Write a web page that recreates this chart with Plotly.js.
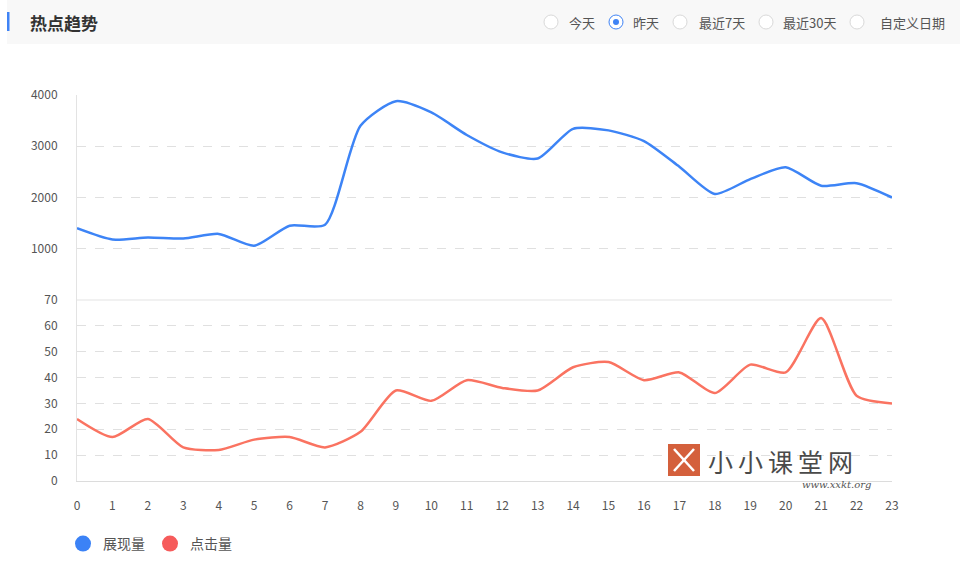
<!DOCTYPE html>
<html>
<head>
<meta charset="utf-8">
<script src="https://cdn.plot.ly/plotly-3.0.1.min.js"></script>
<style>html,body{margin:0;padding:0;background:#fff;}#chart{width:960px;height:576px;}</style>
</head>
<body>
<div id="chart"></div>
<script>
// ---- data ----
var hours = [0,1,2,3,4,5,6,7,8,9,10,11,12,13,14,15,16,17,18,19,20,21,22,23];
var impressions = [1400,1180,1220,1200,1290,1060,1450,1470,3400,3880,3660,3220,2880,2760,3340,3310,3100,2600,2070,2360,2590,2230,2280,2000];
var clicks = [24,17,24,13,12,16,17,13,19,35,31,39,36,35,44,46,39,42,34,45,42,63,33,30];
var seriesNames = ['展现量','点击量'];
var upperTicks = [1000,2000,3000,4000];
var lowerTicks = [0,10,20,30,40,50,60,70];
var title = '热点趋势';
var ranges = ['今天','昨天','最近7天','最近30天','自定义日期'];
var selectedRange = 1;

// ---- geometry helpers (pixel -> paper) ----
var L = 77, R = 892, T = 95, B = 481;
function px(x){ return (x - L) / (R - L); }
function py(y){ return (B - y) / (B - T); }
var split = (B - 300) / (B - T);

var font = '"Noto Sans CJK SC", "Noto Sans", sans-serif';
var blue = '#3d84f6', red = '#fa7361';

var traces = [
  {x: hours, y: impressions, yaxis: 'y2', type: 'scatter', mode: 'lines', name: seriesNames[0],
   line: {color: blue, width: 2.5, shape: 'spline', smoothing: 0.65}, showlegend: false, hoverinfo: 'x+y'},
  {x: hours, y: clicks, yaxis: 'y', type: 'scatter', mode: 'lines', name: seriesNames[1],
   line: {color: red, width: 2.5, shape: 'spline', smoothing: 0.65}, showlegend: false, hoverinfo: 'x+y'},
  {x: [null], y: [null], type: 'scatter', mode: 'markers', name: seriesNames[0],
   marker: {color: '#3b82f6', size: 16}},
  {x: [null], y: [null], type: 'scatter', mode: 'markers', name: seriesNames[1],
   marker: {color: '#f65b5b', size: 16}}
];

var shapes = [
  // header band
  {type: 'rect', xref: 'paper', yref: 'paper', x0: px(7), x1: px(960), y0: py(44), y1: py(0),
   fillcolor: '#f8f8f8', line: {width: 0}, layer: 'below'},
  {type: 'rect', xref: 'paper', yref: 'paper', x0: px(7), x1: px(9.5), y0: py(31), y1: py(12),
   fillcolor: '#3f83f5', line: {width: 0}},
  // separator line between panels
  {type: 'line', xref: 'paper', yref: 'paper', x0: 0, x1: 1, y0: split, y1: split,
   line: {color: '#e3e3e3', width: 1}},
  // watermark logo
  {type: 'rect', xref: 'paper', yref: 'paper', x0: px(668), x1: px(700), y0: py(476), y1: py(444),
   fillcolor: '#d4603c', line: {width: 0}},
  {type: 'line', xref: 'paper', yref: 'paper', x0: px(674), x1: px(694), y0: py(449), y1: py(471),
   line: {color: '#ffffff', width: 2.5}},
  {type: 'line', xref: 'paper', yref: 'paper', x0: px(694), x1: px(674), y0: py(449), y1: py(471),
   line: {color: '#ffffff', width: 2.5}}
];

var annotations = [
  {xref: 'paper', yref: 'paper', x: px(28), y: py(22), xanchor: 'left', yanchor: 'middle',
   text: '<b>' + title + '</b>', showarrow: false, font: {family: font, size: 17, color: '#333'}},
  {xref: 'paper', yref: 'paper', x: px(706), y: py(461), xanchor: 'left', yanchor: 'middle',
   text: '小\u2009小\u2009课\u2009堂\u2009网', showarrow: false, font: {family: font, size: 25, color: '#4a4a4a'}},
  {xref: 'paper', yref: 'paper', x: px(800), y: py(484), xanchor: 'left', yanchor: 'middle',
   text: '<i>www.xxkt.org</i>', showarrow: false, font: {family: '"DejaVu Serif", serif', size: 10, color: '#555'}}
];

var radioX = [551, 616, 680, 766, 857];
var labelX = [567, 631, 697, 781, 878];
ranges.forEach(function(r, i){
  var sel = i === selectedRange;
  shapes.push({type: 'circle', xref: 'paper', yref: 'paper',
    x0: px(radioX[i] - 7), x1: px(radioX[i] + 7), y0: py(29), y1: py(15),
    fillcolor: '#ffffff', line: {color: sel ? '#3f83f5' : '#d9d9d9', width: 1}});
  if (sel) {
    shapes.push({type: 'circle', xref: 'paper', yref: 'paper',
      x0: px(radioX[i] - 3), x1: px(radioX[i] + 3), y0: py(25), y1: py(19),
      fillcolor: '#3f83f5', line: {width: 0}});
  }
  annotations.push({xref: 'paper', yref: 'paper', x: px(labelX[i]), y: py(22), xanchor: 'left', yanchor: 'middle',
    text: r, showarrow: false, font: {family: font, size: 13, color: '#555'}});
});

var layout = {
  width: 960, height: 576,
  margin: {l: L, r: 960 - R, t: T, b: 576 - B},
  paper_bgcolor: '#ffffff', plot_bgcolor: '#ffffff',
  font: {family: font, size: 12, color: '#555'},
  xaxis: {range: [0, 23], tickvals: hours, showgrid: false, zeroline: false,
    showline: true, linecolor: '#dcdcdc', linewidth: 1, ticks: 'outside', ticklen: 14,
    tickcolor: 'rgba(0,0,0,0)', tickfont: {size: 12, color: '#555'}, anchor: 'y', fixedrange: true},
  yaxis: {domain: [0, split], range: [0, 70], tickvals: lowerTicks, showgrid: true,
    gridcolor: '#e0e0e0', griddash: 'dash', zeroline: false, showline: true, linecolor: '#e3e3e3',
    ticks: 'outside', ticklen: 16, tickcolor: 'rgba(0,0,0,0)', tickfont: {size: 12, color: '#555'}, anchor: 'x'},
  yaxis2: {domain: [split, 1], range: [0, 4000], tickvals: upperTicks, showgrid: true,
    gridcolor: '#e0e0e0', griddash: 'dash', zeroline: false, showline: true, linecolor: '#e3e3e3',
    ticks: 'outside', ticklen: 16, tickcolor: 'rgba(0,0,0,0)', tickfont: {size: 12, color: '#555'}, anchor: 'x'},
  showlegend: true,
  legend: {orientation: 'h', x: px(63), y: py(544), xanchor: 'left', yanchor: 'middle',
    font: {family: font, size: 14, color: '#555'}, bgcolor: 'rgba(0,0,0,0)', itemwidth: 30},
  shapes: shapes,
  annotations: annotations
};

Plotly.newPlot('chart', traces, layout, {displayModeBar: false, staticPlot: true});
</script>
</body>
</html>
